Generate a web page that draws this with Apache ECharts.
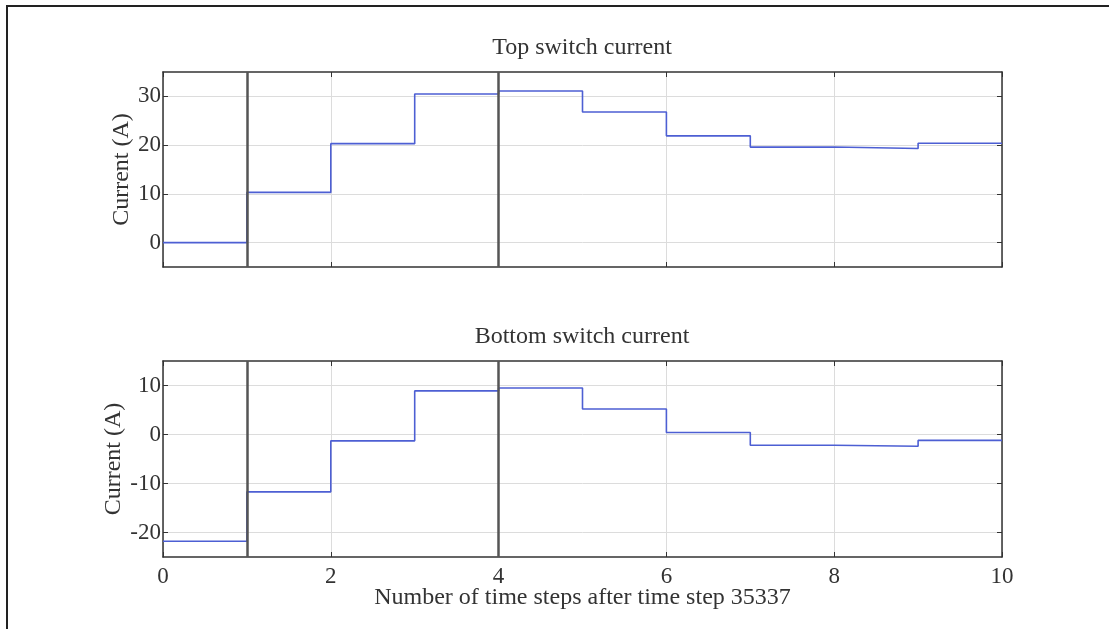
<!DOCTYPE html>
<html>
<head>
<meta charset="utf-8">
<script src="https://cdn.jsdelivr.net/npm/echarts@6/dist/echarts.min.js"></script>
<style>
  html, body { margin: 0; padding: 0; background: #fff; }
  #chart { width: 1109px; height: 629px; }
</style>
</head>
<body>
<div id="chart"></div>
<script>
// Time-step index (x) at the start of each held value, plus the final edge
const steps = [0, 1, 2, 3, 4, 5, 6, 7, 8, 9, 10];
// Current held over each time step [i, i+1], in amperes
const topCurrent = [0, 10.3, 20.3, 30.5, 31.1, 26.8, 21.9, 19.6, 19.3, 20.4];
const bottomCurrent = [-21.8, -11.7, -1.3, 8.9, 9.5, 5.2, 0.4, -2.2, -2.4, -1.2];
// Instants marked with vertical lines
const markSteps = [1, 4];
const titles = ['Top switch current', 'Bottom switch current'];
const xName = 'Number of time steps after time step 35337';
const yName = 'Current (A)';
const topRange = [-5, 35];
const topTicks = [0, 10, 20, 30];
const bottomRange = [-25, 15];
const bottomTicks = [-20, -10, 0, 10];

const FONT = '"Liberation Serif", "DejaVu Serif", serif';
const TXT = '#333';
const AXIS_LINE = { show: true, onZero: false, lineStyle: { color: '#333', width: 1.5 } };
const TICK = { show: true, inside: true, length: 5, lineStyle: { color: '#333' } };

// Build [x, value] pairs; the last step's value is repeated at the closing edge
function stepPairs(vals) {
  return steps.map((x, i) => [x, vals[Math.min(i, vals.length - 1)]]);
}

const grids = [
  { left: 163, right: 107, top: 72, height: 195 },
  { left: 163, right: 107, top: 361, height: 196 }
];

function xAxisFor(gi, showLabels) {
  return [{
    type: 'value', gridIndex: gi, min: 0, max: 10, interval: 2,
    axisLine: AXIS_LINE, axisTick: TICK,
    axisLabel: { show: showLabels, color: TXT, fontFamily: FONT, fontSize: 23, margin: 8 },
    splitLine: { show: true, lineStyle: { color: '#dcdcdc', width: 1 } },
    name: showLabels ? xName : '',
    nameLocation: 'middle', nameGap: 29, nameMoveOverlap: false,
    nameTextStyle: { color: TXT, fontFamily: FONT, fontSize: 24 }
  }, {
    type: 'value', gridIndex: gi, min: 0, max: 10, interval: 2, position: 'top',
    axisLine: AXIS_LINE, axisTick: TICK,
    axisLabel: { show: false }, splitLine: { show: false }
  }];
}

function yAxisFor(gi, range, ticks, gap) {
  return [{
    type: 'value', gridIndex: gi, min: range[0], max: range[1],
    axisLine: AXIS_LINE,
    axisTick: Object.assign({ customValues: ticks }, TICK),
    axisLabel: { customValues: ticks, color: TXT, fontFamily: FONT, fontSize: 23, margin: 2 },
    splitLine: { show: true, lineStyle: { color: '#dcdcdc', width: 1 } },
    name: yName, nameLocation: 'middle', nameGap: gap, nameRotate: 90, nameMoveOverlap: false,
    nameTextStyle: { color: TXT, fontFamily: FONT, fontSize: 24 }
  }, {
    type: 'value', gridIndex: gi, min: range[0], max: range[1], position: 'right',
    axisLine: AXIS_LINE,
    axisTick: Object.assign({ customValues: ticks }, TICK),
    axisLabel: { show: false }, splitLine: { show: false }
  }];
}

function stepSeries(gi, vals) {
  return {
    type: 'line', xAxisIndex: gi * 2, yAxisIndex: gi * 2,
    step: 'end', data: stepPairs(vals), symbol: 'none', animation: false,
    lineStyle: { color: '#4d5fd3', width: 1.6 },
    markLine: {
      silent: true, symbol: 'none', animation: false,
      label: { show: false },
      lineStyle: { color: '#555', width: 2.5, type: 'solid' },
      data: markSteps.map(s => ({ xAxis: s }))
    }
  };
}

const chart = echarts.init(document.getElementById('chart'), null, { renderer: 'canvas' });
chart.setOption({
  backgroundColor: '#fff',
  animation: false,
  title: [
    { text: titles[0], left: 577, top: 31, textAlign: 'center',
      textStyle: { color: TXT, fontFamily: FONT, fontSize: 24, fontWeight: 'normal' } },
    { text: titles[1], left: 577, top: 320, textAlign: 'center',
      textStyle: { color: TXT, fontFamily: FONT, fontSize: 24, fontWeight: 'normal' } }
  ],
  graphic: [{
    type: 'polyline', silent: true,
    shape: { points: [[7, 640], [7, 6], [1120, 6]] },
    style: { stroke: '#222', lineWidth: 2, fill: null }
  }],
  grid: grids,
  xAxis: [...xAxisFor(0, false), ...xAxisFor(1, true)],
  yAxis: [...yAxisFor(0, topRange, topTicks, 29), ...yAxisFor(1, bottomRange, bottomTicks, 37)],
  series: [stepSeries(0, topCurrent), stepSeries(1, bottomCurrent)]
});
</script>
</body>
</html>
